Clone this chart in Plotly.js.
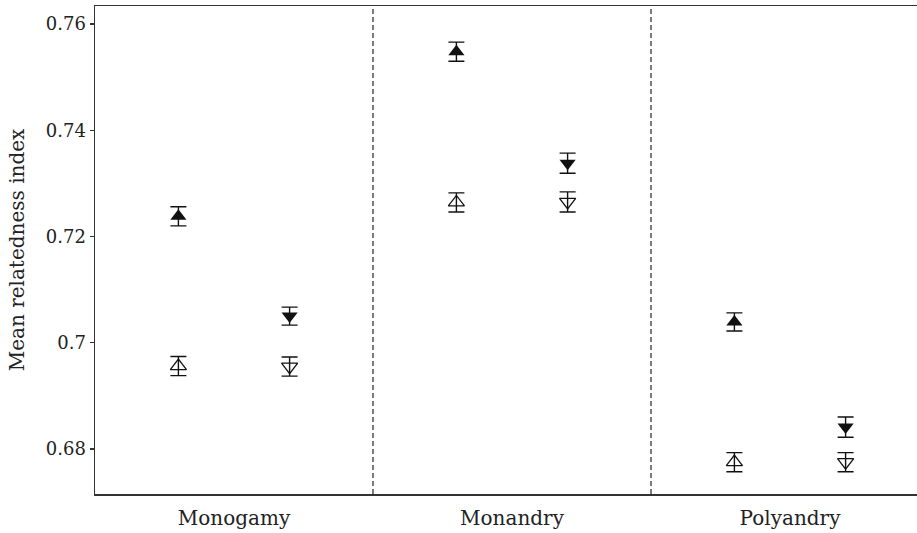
<!DOCTYPE html>
<html>
<head>
<meta charset="utf-8">
<script src="https://cdn.plot.ly/plotly-3.0.1.min.js"></script>
<style>html,body{margin:0;padding:0;background:#fff;}#chart{width:917px;height:533px;}</style>
</head>
<body>
<div id="chart"></div>
<script>
// ---- data ----
var categories = ["Monogamy", "Monandry", "Polyandry"];
var filledUp = [0.7238, 0.7548, 0.7039];
var filledUpErr = [0.0018, 0.0018, 0.0017];
var openUp = [0.6956, 0.7264, 0.6775];
var openUpErr = [0.0018, 0.0018, 0.0018];
var filledDown = [0.7050, 0.7338, 0.6841];
var filledDownErr = [0.0017, 0.0019, 0.0019];
var openDown = [0.6955, 0.7265, 0.6775];
var openDownErr = [0.0018, 0.0019, 0.0018];
var yTickVals = [0.68, 0.70, 0.72, 0.74, 0.76];
var yTickText = ["0.68", "0.7", "0.72", "0.74", "0.76"];
var yTitle = "Mean relatedness index";

// ---- drawing ----
var idx = categories.map(function(_, i){ return i; });
var left = idx.map(function(i){ return i - 0.2; });
var right = idx.map(function(i){ return i + 0.2; });
var ink = "#111";

function tr(xs, ys, errs, symbol, open) {
  return {
    type: "scatter", mode: "markers", x: xs, y: ys, showlegend: false,
    error_y: {type: "data", array: errs, visible: true, color: ink, thickness: 1.4, width: 8},
    marker: {symbol: symbol, size: 14, color: ink,
             line: {color: ink, width: open ? 1.3 : 0}},
    hoverinfo: "skip"
  };
}

var data = [
  tr(left, filledUp, filledUpErr, "triangle-up", false),
  tr(left, openUp, openUpErr, "triangle-up-open", true),
  tr(right, filledDown, filledDownErr, "triangle-down", false),
  tr(right, openDown, openDownErr, "triangle-down-open", true)
];

var shapes = idx.slice(0, -1).map(function(i){
  return {type: "line", xref: "x", yref: "paper", x0: i + 0.5, x1: i + 0.5, y0: 0, y1: 1,
          line: {color: "#222", width: 1.2, dash: "5px,3px"}};
});

var W = 917, H = 533, ml = 95, mr = 0, mt = 6, mb = 39;
var catPx = 278;
var plotW = W - ml - mr;

var layout = {
  width: W, height: H,
  margin: {l: ml, r: mr, t: mt, b: mb, pad: 0},
  paper_bgcolor: "#fff", plot_bgcolor: "#fff",
  font: {family: "DejaVu Serif, serif", color: "#222", size: 18},
  xaxis: {
    range: [-0.5, -0.5 + plotW / catPx],
    tickvals: idx, ticktext: categories,
    showgrid: false, zeroline: false,
    showline: true, linecolor: "#333", linewidth: 1.5, mirror: true,
    ticks: "", ticklabelstandoff: 5,
    tickfont: {size: 20, family: "DejaVu Serif, serif", color: "#222"}
  },
  yaxis: {
    range: [0.6715, 0.7634],
    tickvals: yTickVals, ticktext: yTickText,
    showgrid: false, zeroline: false,
    showline: true, linecolor: "#333", linewidth: 1.5,
    ticks: "outside", ticklen: 4, tickwidth: 1.3, tickcolor: "#333",
    tickfont: {size: 18, family: "DejaVu Serif, serif", color: "#222"},
    title: {text: yTitle, font: {size: 20, family: "DejaVu Serif, serif", color: "#222"}, standoff: 16}
  },
  shapes: shapes
};

Plotly.newPlot("chart", data, layout, {displayModeBar: false, staticPlot: true});
</script>
</body>
</html>
